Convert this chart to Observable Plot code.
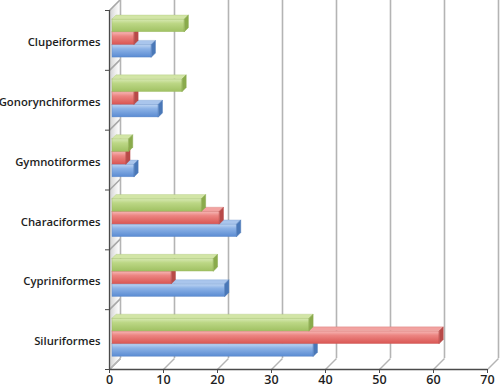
<!DOCTYPE html>
<html><head><meta charset="utf-8">
<script src="https://cdn.jsdelivr.net/npm/d3@7"></script>
<script src="https://cdn.jsdelivr.net/npm/@observablehq/plot@0.6"></script>
<style>
html,body{margin:0;padding:0;background:#fff}
svg{display:block}
</style>
</head><body><div id="chart"></div>
<script>
// ---- data ----
const categories = ["Clupeiformes","Gonorynchiformes","Gymnotiformes","Characiformes","Cypriniformes","Siluriformes"];
const seriesGreen = [13.4, 13.0, 3.1, 16.6, 18.8, 36.5];
const seriesRed   = [4.1, 4.1, 2.6, 19.9, 11.0, 60.6];
const seriesBlue  = [7.3, 8.6, 4.1, 23.1, 20.9, 37.3];
const xTicks = [0, 10, 20, 30, 40, 50, 60, 70];

// ---- layout ----
const W = 500, H = 388;
const mL = 109, mR = 13, mT = 10, mB = 19;
const pxX = (W - mL - mR) / 70;      // px per x unit
const pxY = (H - mT - mB) / 6;       // px per category band
const depth = 11;                    // wall depth in px
const dWx = depth / pxX, dWy = depth / pxY;
const barDepth = 4;
const dBx = barDepth / pxX, dBy = barDepth / pxY;
const barOff = 9 / pxY, barH = 12.7 / pxY;

const series = [
  {key: "blue",  values: seriesBlue,  s: 2, top: "#a9c5ec", side: "#4a78b8", edge: "#5a86c4"},
  {key: "red",   values: seriesRed,   s: 1, top: "#f2a3a1", side: "#b84a48", edge: "#c85a58"},
  {key: "green", values: seriesGreen, s: 0, top: "#d2e5a6", side: "#8aab4c", edge: "#98b85c"}
];

const bands = d3.range(categories.length + 1);

function barMarks(se) {
  const rows = se.values.map((v, i) => {
    const y1 = i + barOff + se.s * barH;
    return {i, v, y1, y2: y1 + barH};
  });
  const topPts = rows.flatMap(r => [
    {id: r.i, y: r.y1, x1: 0, x2: r.v},
    {id: r.i, y: r.y1 - dBy, x1: dBx, x2: r.v + dBx}
  ]);
  const sidePts = rows.flatMap(r => [
    {id: r.i, x: r.v, y1: r.y1, y2: r.y2},
    {id: r.i, x: r.v + dBx, y1: r.y1 - dBy, y2: r.y2 - dBy}
  ]);
  return [
    Plot.rectX(rows, {x1: 0, x2: "v", y1: "y1", y2: "y2", dx: 3, fill: `url(#g-${se.key})`, stroke: se.edge, strokeWidth: 0.6, strokeOpacity: 0.6}),
    Plot.areaX(topPts, {y: "y", x1: "x1", x2: "x2", z: "id", dx: 3, fill: se.top, stroke: se.edge, strokeWidth: 0.5, strokeOpacity: 0.5}),
    Plot.areaY(sidePts, {x: "x", y1: "y1", y2: "y2", z: "id", dx: 3, fill: se.side, stroke: se.side, strokeWidth: 0.5})
  ];
}

const wallPts = [
  {x: 0, y1: 0, y2: 6},
  {x: dWx, y1: -dWy, y2: 6 - dWy}
];

const chart = Plot.plot({
  width: W, height: H,
  marginLeft: mL, marginRight: mR, marginTop: mT, marginBottom: mB,
  style: {fontFamily: "'Open Sans', sans-serif", background: "#fff", overflow: "visible"},
  x: {domain: [0, 70], axis: null},
  y: {domain: [0, 6], reverse: true, axis: null},
  marks: [
    // left wall
    Plot.areaY(wallPts, {x: "x", y1: "y1", y2: "y2", fill: "url(#g-wall)"}),
    Plot.link(bands, {x1: 0, y1: d => d, x2: dWx, y2: d => d - dWy, stroke: "#a8a8a8", strokeWidth: 1.6}),
    Plot.ruleX([dWx], {y1: -dWy, y2: 6 - dWy, stroke: "#c8c8c8", strokeWidth: 1}),
    // back grid lines
    Plot.ruleX(xTicks, {x: d => d + dWx, y1: -mT / pxY, y2: 6 - dWy, stroke: "#b4b4b4", strokeWidth: 1.6}),
    // floor connectors
    Plot.link(xTicks, {x1: d => d, y1: 6, x2: d => d + dWx, y2: 6 - dWy, stroke: "#b4b4b4", strokeWidth: 1.4}),
    // bars
    ...series.flatMap(barMarks),
    // axes
    Plot.ruleX([0], {stroke: "#4a4a4a", strokeWidth: 1.3}),
    Plot.ruleY([6], {stroke: "#4a4a4a", strokeWidth: 1.3}),
    Plot.axisY(bands, {anchor: "left", tickSize: 4, tickFormat: () => "", stroke: "#4a4a4a"}),
    Plot.axisY(d3.range(categories.length).map(i => i + 0.5), {
      anchor: "left", tickSize: 0, tickPadding: 9, dy: 2,
      tickFormat: d => categories[Math.floor(d)],
      fontSize: 11.3, fontWeight: 600, fill: "#1e1e1e"
    }),
    Plot.axisX(xTicks, {anchor: "bottom", tickSize: 4, tickPadding: 2, fontSize: 12.5, fontWeight: 600, fill: "#1e1e1e", stroke: "#4a4a4a"})
  ]
});

// gradients
const svg = d3.select(chart);
const defs = svg.insert("defs", ":first-child");
function vgrad(id, stops) {
  const g = defs.append("linearGradient").attr("id", id).attr("x1", 0).attr("y1", 0).attr("x2", 0).attr("y2", 1);
  stops.forEach(([o, c]) => g.append("stop").attr("offset", o).attr("stop-color", c));
}
vgrad("g-green", [["0%", "#d9eab6"], ["35%", "#bcd785"], ["100%", "#a0c163"]]);
vgrad("g-red",   [["0%", "#f7bab8"], ["35%", "#ec8582"], ["100%", "#d95653"]]);
vgrad("g-blue",  [["0%", "#c1d7f3"], ["35%", "#8cb2e6"], ["100%", "#5a8bd2"]]);
const gw = defs.append("linearGradient").attr("id", "g-wall").attr("x1", 0).attr("y1", 0).attr("x2", 1).attr("y2", 0);
[["0%", "#cfcfcf"], ["60%", "#efefef"], ["100%", "#ffffff"]].forEach(([o, c]) => gw.append("stop").attr("offset", o).attr("stop-color", c));

document.getElementById("chart").append(chart);
</script>
</body></html>
